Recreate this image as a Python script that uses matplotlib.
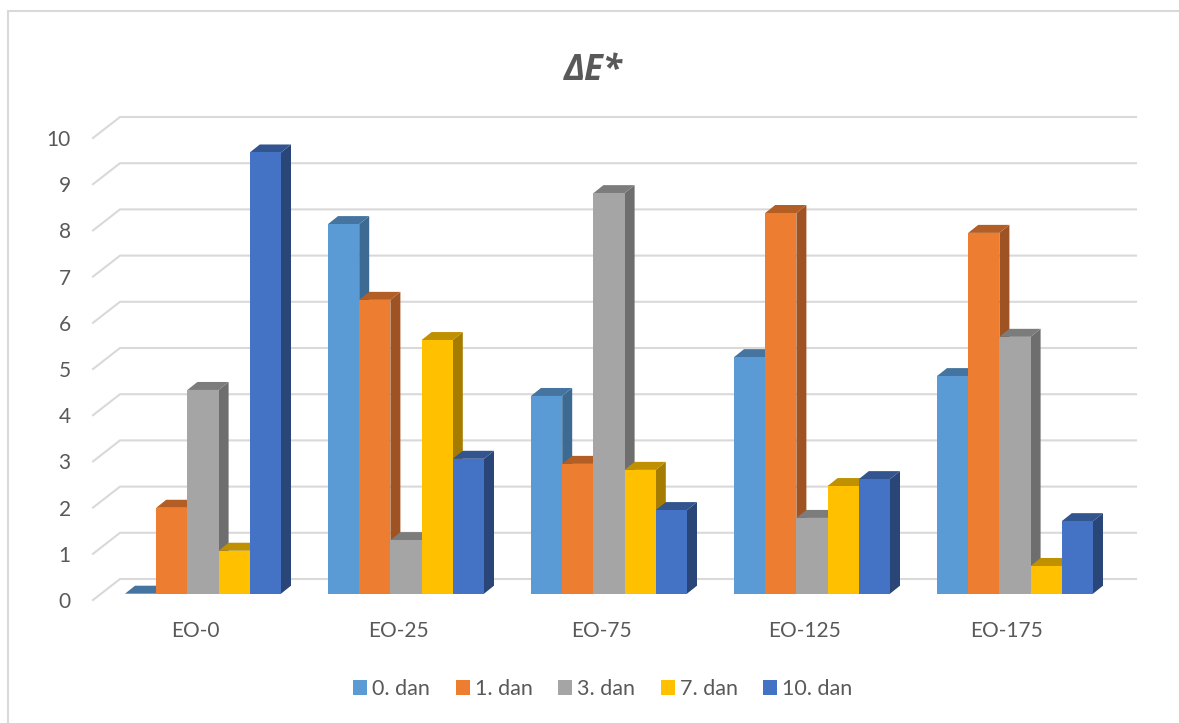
"""Clustered bar chart of delta E with a hand-built 3D look."""
import matplotlib.pyplot as plt
from matplotlib.lines import Line2D
from matplotlib.patches import Patch, Polygon

CATEGORIES = ["EO-0", "EO-25", "EO-75", "EO-125", "EO-175"]
SERIES = ["0. dan", "1. dan", "3. dan", "7. dan", "10. dan"]

DAN_0 = [0.0, 8.0, 4.28, 5.12, 4.71]
DAN_1 = [1.86, 6.36, 2.81, 8.24, 7.81]
DAN_3 = [4.41, 1.16, 8.67, 1.64, 5.56]
DAN_7 = [0.93, 5.49, 2.68, 2.33, 0.60]
DAN_10 = [9.55, 2.92, 1.81, 2.48, 1.57]
VALUES = [DAN_0, DAN_1, DAN_3, DAN_7, DAN_10]

Y_TICKS = list(range(11))

FRONT = ["#5B9BD5", "#ED7D31", "#A5A5A5", "#FFC000", "#4472C4"]
TOP = ["#44749F", "#B25E25", "#7C7C7C", "#BF9000", "#33558F"]
SIDE = ["#3C6A92", "#A05322", "#6E6E6E", "#A67C00", "#2A4679"]
GRID = "#D9D9D9"
TEXT = "#595959"

W, H = 1179, 723
PX_X, PX_Y = 203.0, 46.2  # pixels per category, per value unit
BASE_PX, CENTER_PX = 593.7, 203.0
BAR_W = 31.2 / PX_X
DEPTH_X, DEPTH_Y = 10 / PX_X, 8 / PX_Y
GRID_X, GRID_Y = 27 / PX_X, 21 / PX_Y  # floor depth of the gridlines
Y_FRONT = (BASE_PX - 600) / PX_Y

plt.rcParams["font.family"] = ["Lato", "DejaVu Sans"]
fig = plt.figure(figsize=(W / 100, H / 100), dpi=100)

# only the left and top edges of the chart frame are inside the crop
fig.add_artist(Line2D([8 / W, 8 / W, 1], [0, 1 - 11 / H, 1 - 11 / H], color=GRID,
                      linewidth=1.5, transform=fig.transFigure, solid_joinstyle="miter"))

left, right, top, bottom = 93, 1136, 117, 600
ax = fig.add_axes([left / W, 1 - bottom / H, (right - left) / W, (bottom - top) / H])
ax.set_xlim((left - CENTER_PX) / PX_X, (right - CENTER_PX) / PX_X)
ax.set_ylim(Y_FRONT, (BASE_PX - top) / PX_Y)
for spine in ax.spines.values():
    spine.set_visible(False)

x0, x1 = ax.get_xlim()
for v in Y_TICKS:
    ax.plot([x0, x0 + GRID_X, x1], [v + Y_FRONT, v + Y_FRONT + GRID_Y, v + Y_FRONT + GRID_Y],
            color=GRID, linewidth=1.5, clip_on=False, zorder=1, solid_joinstyle="miter")

for i, (vals, front, top_c, side) in enumerate(zip(VALUES, FRONT, TOP, SIDE)):
    for c, v in enumerate(vals):
        x = c + (i - 2.5) * BAR_W
        z = 2 + c + i * 0.1
        ax.add_patch(Polygon([(x + BAR_W, 0), (x + BAR_W + DEPTH_X, DEPTH_Y),
                              (x + BAR_W + DEPTH_X, v + DEPTH_Y), (x + BAR_W, v)],
                             facecolor=side, edgecolor="none", zorder=z))
        ax.add_patch(Polygon([(x, v), (x + DEPTH_X, v + DEPTH_Y),
                              (x + BAR_W + DEPTH_X, v + DEPTH_Y), (x + BAR_W, v)],
                             facecolor=top_c, edgecolor="none", zorder=z))
        ax.bar(x, v, BAR_W, align="edge", color=front, zorder=z + 0.01)

ax.set_yticks([v + Y_FRONT for v in Y_TICKS], [str(v) for v in Y_TICKS])
ax.set_xticks([c - 8 / PX_X for c in range(len(CATEGORIES))], CATEGORIES)
ax.tick_params(axis="y", length=0, pad=16, labelsize=15, labelcolor=TEXT)
ax.tick_params(axis="x", length=0, pad=15, labelsize=15, labelcolor=TEXT)

fig.text(593 / W, 1 - 71 / H, "ΔE*", ha="center", va="center", fontsize=25,
         fontweight="bold", fontstyle="italic", color=TEXT,
         family=["Open Sans", "DejaVu Sans"])

handles = [Patch(facecolor=c, edgecolor="none") for c in FRONT]
fig.legend(handles, SERIES, ncol=5, loc="center", bbox_to_anchor=(603 / W, 1 - 689 / H),
           frameon=False, fontsize=15.5, labelcolor=TEXT, handlelength=0.65, handleheight=0.65,
           handletextpad=0.23, columnspacing=1.19)

fig.savefig("out.png", dpi=100)
